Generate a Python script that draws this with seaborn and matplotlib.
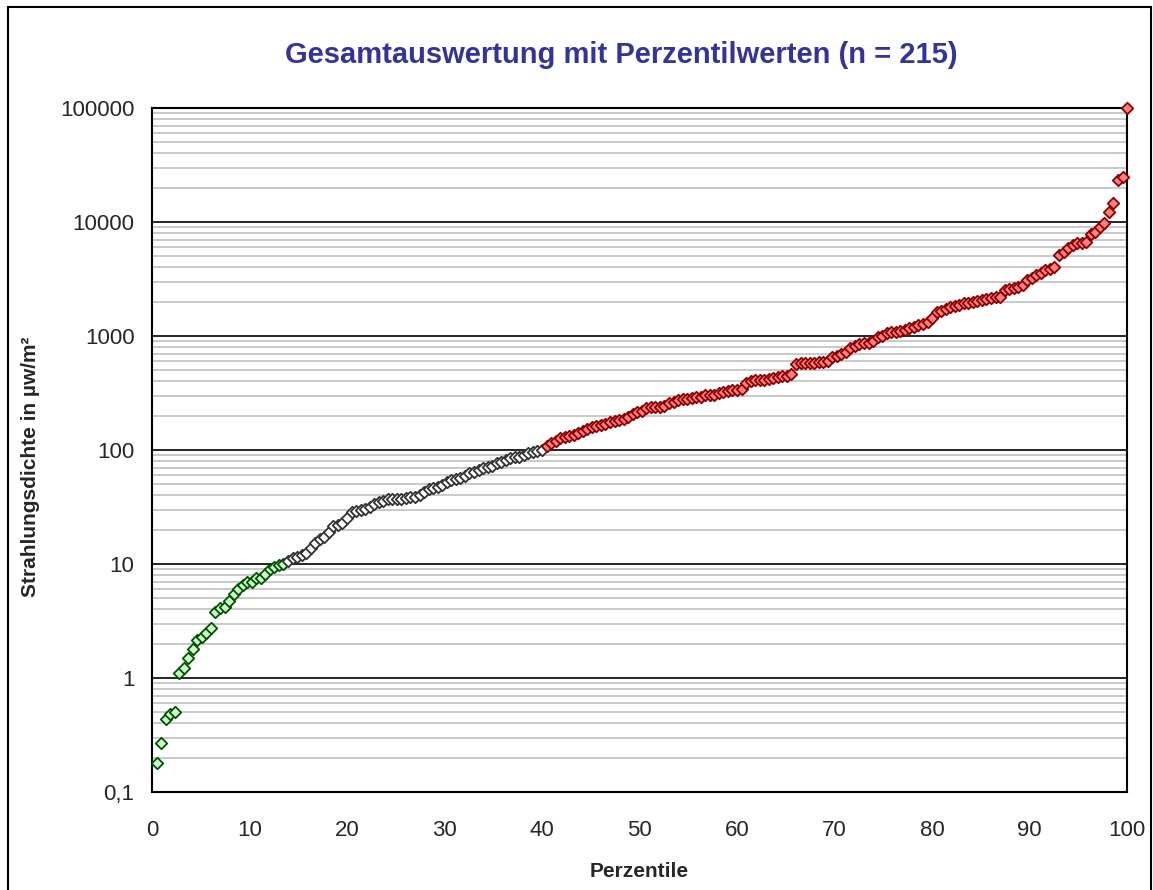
import numpy as np
import pandas as pd
import seaborn as sns
import matplotlib.pyplot as plt
from matplotlib.patches import Rectangle
from matplotlib.ticker import FixedLocator, NullFormatter

# Messwerte in µW/m², aufsteigend sortiert (n = 215)
werte_gruen = [0.18, 0.27, 0.44, 0.48, 0.50, 1.10, 1.23, 1.49, 1.80, 2.15,
               2.30, 2.50, 2.73, 3.82, 4.09, 4.22, 4.77, 5.42, 6.0, 6.5,
               7.0, 7.0, 7.5, 7.5, 8.1, 9.0, 9.5, 9.8, 10.0]
werte_grau = [10.7, 11.2, 11.6, 12.0, 12.4, 13.7, 15.2, 16.5, 17.4, 19.2,
              21.5, 22.0, 22.7, 25.2, 28.8, 29.4, 29.5, 30.2, 31.8, 33.6,
              35.2, 35.4, 36.9, 37.0, 37.0, 37.1, 37.7, 38.5, 39.0, 40.3,
              43.1, 45.2, 46.2, 47.7, 49.3, 52.7, 54.6, 55.3, 56.4, 59.2,
              62.5, 64.5, 66.8, 69.0, 70.4, 72.4, 76.4, 78.9, 81.6, 84.4,
              86.3, 87.2, 90.3, 93.2, 96.5, 98.0, 99.5]
werte_rot = [109, 115, 121, 127, 129, 133, 135, 142, 147, 152,
             158, 162, 165, 169, 177, 181, 183, 186, 196, 207,
             215, 221, 232, 237, 237, 238, 243, 257, 265, 274,
             278, 282, 286, 290, 294, 302, 303, 306, 314, 325,
             331, 336, 337, 345, 390, 405, 410, 412, 415, 420,
             428, 440, 442, 446, 464, 568, 575, 577, 583, 585,
             595, 597, 607, 650, 668, 695, 728, 780, 817, 850,
             863, 873, 910, 985, 990, 1055, 1085, 1090, 1095, 1130,
             1167, 1207, 1248, 1274, 1334, 1428, 1633, 1667, 1714, 1786,
             1833, 1870, 1935, 1960, 2000, 2040, 2060, 2100, 2140, 2180,
             2210, 2520, 2570, 2620, 2700, 2800, 3100, 3200, 3430, 3550,
             3800, 3890, 4060, 5140, 5500, 5880, 6290, 6500, 6600, 6700,
             7900, 8200, 9000, 9730, 12300, 14600, 23500, 24600, 100000]

y_ticks = [0.1, 1, 10, 100, 1000, 10000, 100000]
y_labels = ["0,1", "1", "10", "100", "1000", "10000", "100000"]
x_ticks = [0, 10, 20, 30, 40, 50, 60, 70, 80, 90, 100]

gruppen = ["gruen"] * len(werte_gruen) + ["grau"] * len(werte_grau) + ["rot"] * len(werte_rot)
werte = werte_gruen + werte_grau + werte_rot
n = len(werte)
df = pd.DataFrame({"wert": werte, "gruppe": gruppen})
# Perzentil aus dem Rang
df["perzentil"] = np.arange(1, n + 1) / n * 100

sns.set_style("white")
plt.rcParams['font.family'] = ['Liberation Sans', 'DejaVu Sans']

fig = plt.figure(figsize=(11.53, 8.90), dpi=100)
ax = fig.add_axes([0.1318, 0.1101, 0.8457, 0.7686])

farben = {
    "gruen": ("#ccffcc", "#005000"),
    "grau": ("#ffffff", "#333333"),
    "rot": ("#ff8080", "#8b0000"),
}
for g, (fill, edge) in farben.items():
    sub = df[df["gruppe"] == g]
    sns.scatterplot(data=sub, x="perzentil", y="wert", ax=ax, marker="D", s=34,
                    color=fill, edgecolor=edge, linewidth=1.3, clip_on=False, zorder=5,
                    legend=False)

ax.set_yscale("log")
ax.set_xlim(0, 100)
ax.set_ylim(0.1, 100000)

# Gitterlinien: schwarz je Dekade, grau dazwischen
ax.yaxis.set_major_locator(FixedLocator(y_ticks))
ax.set_yticklabels(y_labels)
minor = [m * 10.0 ** e for e in range(-1, 5) for m in range(2, 10)]
ax.yaxis.set_minor_locator(FixedLocator(minor))
ax.yaxis.set_minor_formatter(NullFormatter())
ax.grid(which="minor", axis="y", color="#c0c0c0", linewidth=1.2)
ax.grid(which="major", axis="y", color="black", linewidth=1.2)
ax.grid(which="major", axis="x", visible=False)
ax.set_axisbelow(True)
ax.set_xticks(x_ticks)

ax.tick_params(axis="y", which="major", direction="out", length=6.5, width=1.2,
               pad=6, labelsize=16, color="black")
ax.tick_params(axis="y", which="minor", length=0)
ax.tick_params(axis="x", direction="out", length=6, width=1.2, pad=14,
               labelsize=16, color="black")
for s in ax.spines.values():
    s.set_color("black")
    s.set_linewidth(1.5)

ax.set_xlabel("Perzentile", fontsize=15, fontweight="bold", labelpad=15)
ax.set_ylabel("Strahlungsdichte in µw/m²", fontsize=15, fontweight="bold")
ax.yaxis.set_label_coords(-0.115, 0.475)
fig.text(0.5386, 0.938, "Gesamtauswertung mit Perzentilwerten (n = 215)",
         ha="center", va="center", fontsize=21, fontweight="bold", color="#333399")

# Rahmen um das Diagramm
fig.patches.append(Rectangle((8 / 1153, -0.01), 1143 / 1153, 0.01 + 883 / 890,
                             transform=fig.transFigure, fill=False,
                             edgecolor="black", linewidth=1.5))

fig.savefig("out.png", dpi=100)
